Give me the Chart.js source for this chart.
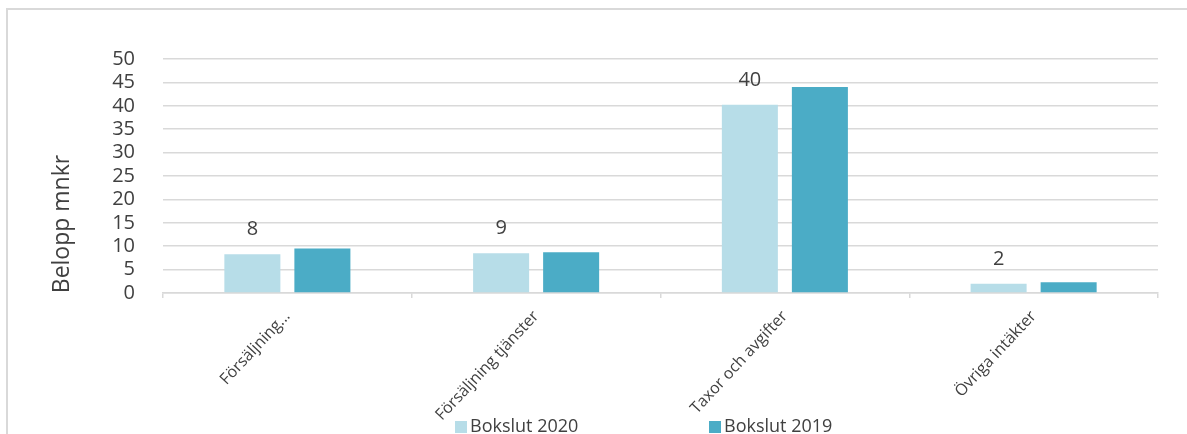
<!DOCTYPE html>
<html>
<head>
<meta charset="utf-8">
<script src="https://cdn.jsdelivr.net/npm/chart.js@4"></script>
<style>
  html, body { margin: 0; padding: 0; background: #fff; overflow: hidden; }
  #wrap { position: relative; width: 1187px; height: 434px; }
  #frame { position: absolute; left: 6px; top: 8px; width: 1300px; height: 600px; border: 2px solid #d9d9d9; box-sizing: border-box; }
  canvas { position: absolute; left: 0; top: 0; }
</style>
</head>
<body>
<div id="wrap">
  <div id="frame"></div>
  <canvas id="c" width="1187" height="434"></canvas>
</div>
<script>
const categories = ["Försäljning...", "Försäljning tjänster", "Taxor och avgifter", "Övriga intäkter"];
const seriesNames = ["Bokslut 2020", "Bokslut 2019"];
const values2020 = [8.3, 8.5, 40.2, 2.0];
const values2019 = [9.5, 8.7, 44.0, 2.3];
const yTicks = [0, 5, 10, 15, 20, 25, 30, 35, 40, 45, 50];
const yTitle = "Belopp mnkr";

const colors = ["#b7dde8", "#4bacc6"];
const textColor = "#404040";
const gridColor = "#d9d9d9";
const FONT = "'Open Sans', 'Noto Sans', sans-serif";

const dataLabels = {
  id: 'dataLabels',
  afterDatasetsDraw(chart) {
    const ctx = chart.ctx;
    const meta = chart.getDatasetMeta(0);
    ctx.save();
    ctx.fillStyle = textColor;
    ctx.font = "20px " + FONT;
    ctx.textAlign = 'center';
    ctx.textBaseline = 'middle';
    meta.data.forEach((bar, i) => {
      const v = chart.data.datasets[0].data[i];
      ctx.fillText(String(Math.round(v)), bar.x, bar.y - 24.5);
    });
    ctx.restore();
  }
};

const yTitlePlugin = {
  id: 'yTitlePlugin',
  afterDraw(chart) {
    const ctx = chart.ctx;
    ctx.save();
    ctx.translate(62, 224);
    ctx.rotate(-Math.PI / 2);
    ctx.fillStyle = textColor;
    ctx.font = "23px " + FONT;
    ctx.textAlign = 'center';
    ctx.textBaseline = 'middle';
    ctx.fillText(yTitle, 0, 0);
    ctx.restore();
  }
};

const legendPlugin = {
  id: 'customLegend',
  afterDraw(chart) {
    const ctx = chart.ctx;
    const starts = [455, 709];
    ctx.save();
    ctx.font = "18px " + FONT;
    ctx.textBaseline = 'middle';
    chart.data.datasets.forEach((ds, i) => {
      const x = starts[i];
      const y = 427;
      ctx.fillStyle = ds.backgroundColor;
      ctx.fillRect(x, y - 6, 12, 12);
      ctx.fillStyle = textColor;
      ctx.textAlign = 'left';
      ctx.fillText(ds.label, x + 15, y);
    });
    ctx.restore();
  }
};

new Chart(document.getElementById('c'), {
  type: 'bar',
  data: {
    labels: categories,
    datasets: [
      { label: seriesNames[0], data: values2020, backgroundColor: colors[0], barPercentage: 0.8, categoryPercentage: 0.563 },
      { label: seriesNames[1], data: values2019, backgroundColor: colors[1], barPercentage: 0.8, categoryPercentage: 0.563 }
    ]
  },
  options: {
    responsive: false,
    animation: false,
    layout: { padding: { top: 59, right: 29, left: 0, bottom: 0 } },
    plugins: {
      legend: { display: false },
      tooltip: { enabled: false },
      title: { display: false }
    },
    scales: {
      x: {
        grid: { offset: true, drawOnChartArea: false, drawTicks: true, tickLength: 5, color: gridColor, lineWidth: 1.5 },
        border: { display: true, color: gridColor, width: 1.5 },
        ticks: { color: textColor, font: { family: FONT, size: 16 }, minRotation: 47, maxRotation: 47, padding: 9, autoSkip: false },
        afterFit(scale) { scale.height = 141; }
      },
      y: {
        min: 0, max: 50,
        afterBuildTicks(scale) { scale.ticks = yTicks.map(v => ({ value: v })); },
        grid: { color: gridColor, lineWidth: 1.5, drawTicks: false },
        border: { display: false },
        ticks: { color: textColor, font: { family: FONT, size: 20 }, padding: 28, autoSkip: false },
        afterFit(scale) { scale.width = 163; }
      }
    }
  },
  plugins: [dataLabels, yTitlePlugin, legendPlugin]
});
</script>
</body>
</html>
